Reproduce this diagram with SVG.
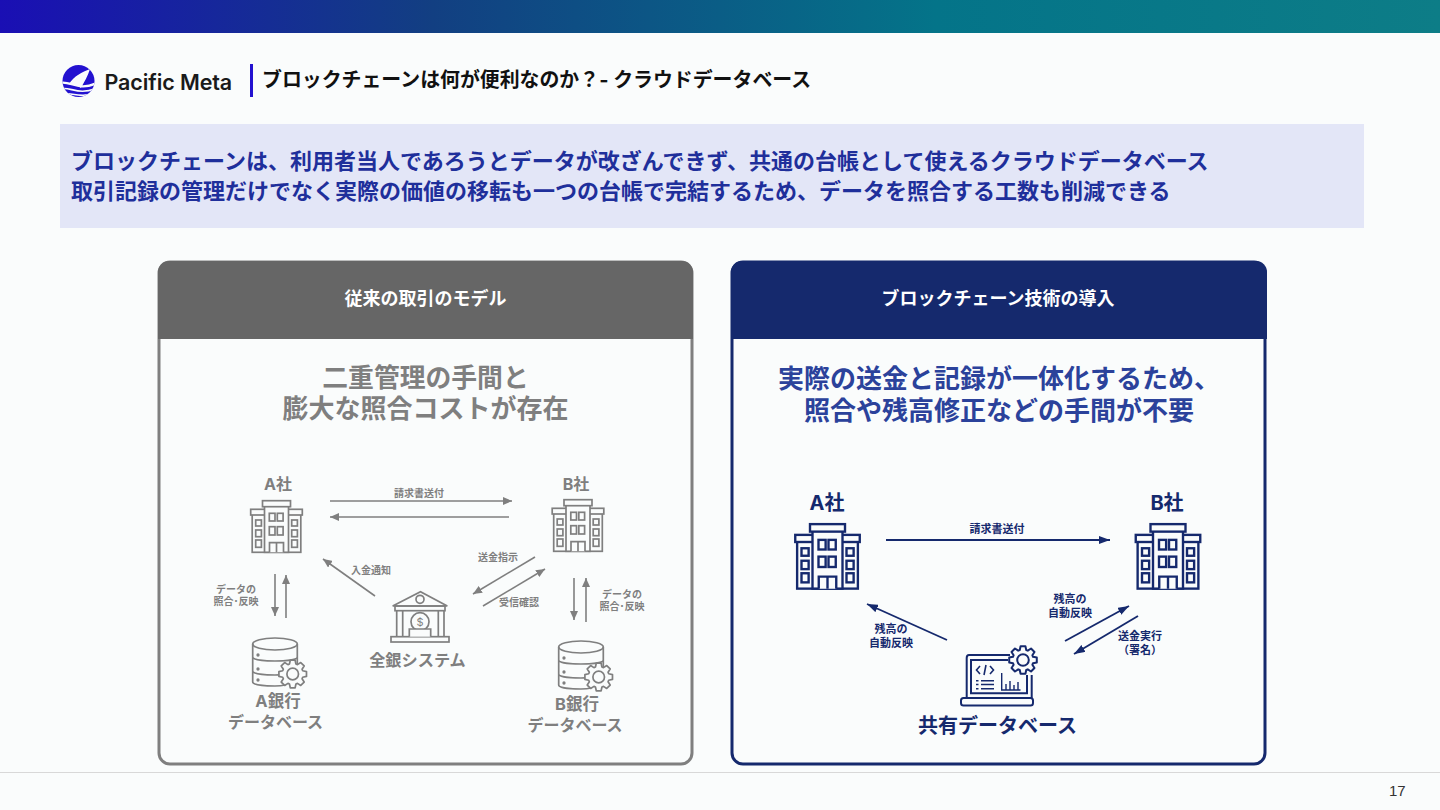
<svg xmlns="http://www.w3.org/2000/svg" width="1440" height="810" viewBox="0 0 1440 810">
<defs>
<linearGradient id="bar" x1="0" x2="1" y1="0" y2="0"><stop offset="0" stop-color="#1a0fb4"/><stop offset="0.3" stop-color="#123f82"/><stop offset="0.65" stop-color="#047489"/><stop offset="1" stop-color="#0d7d87"/></linearGradient>
<clipPath id="logoclip"><circle cx="78.500" cy="81" r="16"/></clipPath>
<marker id="ag" markerWidth="10" markerHeight="8" refX="9" refY="4" orient="auto" markerUnits="userSpaceOnUse"><path d="M0 0L9 4L0 8Z" fill="#7f7f7f"/></marker>
<marker id="an" markerWidth="12" markerHeight="8" refX="11" refY="4" orient="auto" markerUnits="userSpaceOnUse"><path d="M0 0L11 4L0 8Z" fill="#15296d"/></marker>
<g id="bld">
<rect x="-24.300" y="-14" width="48.600" height="39.300"/>
<rect x="-25.800" y="-17.700" width="51.600" height="5.700"/>
<rect x="-12" y="-21" width="24" height="46.300"/>
<rect x="-14" y="-26.300" width="28" height="6"/>
<rect x="-7.200" y="-13.700" width="5.700" height="7.700"/><rect x="0.800" y="-13.700" width="5.800" height="7.700"/>
<rect x="-7.200" y="-0.300" width="5.700" height="8.300"/><rect x="0.800" y="-0.300" width="5.800" height="8.300"/>
<path d="M-7 25.300V15.700H7V25.300M0 15.700V25.300"/>
<rect x="-20.800" y="-7" width="5.700" height="6"/><rect x="-20.800" y="3" width="5.700" height="6.700"/><rect x="-20.800" y="13" width="5.700" height="7.300"/>
<rect x="15.200" y="-7" width="5.700" height="6"/><rect x="15.200" y="3" width="5.700" height="6.700"/><rect x="15.200" y="13" width="5.700" height="7.300"/>
</g>
<g id="gear" stroke-linejoin="round">
<path d="M9.990 -3.240L13.790 -2.430L13.790 2.430L9.990 3.240L9.360 4.770L11.470 8.030L8.030 11.470L4.770 9.360L3.240 9.990L2.430 13.790L-2.430 13.790L-3.240 9.990L-4.770 9.360L-8.030 11.470L-11.470 8.030L-9.360 4.770L-9.990 3.240L-13.790 2.430L-13.790 -2.430L-9.990 -3.240L-9.360 -4.770L-11.470 -8.030L-8.030 -11.470L-4.770 -9.360L-3.240 -9.990L-2.430 -13.790L2.430 -13.790L3.240 -9.990L4.770 -9.360L8.030 -11.470L11.470 -8.030L9.360 -4.770Z"/>
<circle r="5.800"/>
</g>
<g id="db">
<ellipse cx="0" cy="-16" rx="22.300" ry="6"/>
<path d="M-22.300 -16V22C-22.300 25 -10 26 0 26Q6 26 10 25M22.300 -16V4M-22.300 -3C-22.300 0 -10 1 0 1S22.300 0 22.300 -3M-22.300 11C-22.300 14 -10 15 0 15Q4 15 8 14.500"/>
<circle cx="-17" cy="-5" r="0.800"/><circle cx="-17" cy="9" r="0.800"/><circle cx="-17" cy="20" r="0.800"/>
</g>
</defs>
<style>
text{font-family:"Inter","Noto Sans CJK JP","Noto Sans",sans-serif;font-weight:700}
.g{fill:#7f7f7f}.n{fill:#15296d}.m{text-anchor:middle}
.s10{font-size:10px}
.gl{stroke:#7f7f7f;stroke-width:1.6;fill:none}
.nl{stroke:#15296d;stroke-width:1.9;fill:none}
</style>
<rect width="1440" height="810" fill="#fafcfc"/>
<rect id="topbar" width="1440" height="33" fill="url(#bar)"/>

<g id="logo">
<circle cx="78.500" cy="81" r="16" fill="#2312d0"/>
<g clip-path="url(#logoclip)">
<path d="M90 69C82 72 74 76 69 84C73 84 78 86 81 88C84 82 88 76 90 69Z" fill="#fafcfc"/>
<path d="M60 83C70 80 78 92 97 83" stroke="#fafcfc" stroke-width="2.400" fill="none"/>
<path d="M60 89C70 86 78 96 97 88M60 94C70 91 80 100 97 92" stroke="#fafcfc" stroke-width="1.600" fill="none"/>
</g>
<text x="104.500" y="89.500" font-size="21.500" fill="#1a1a1a" style="font-weight:600" letter-spacing="-0.100">Pacific Meta</text>
</g>
<rect x="250" y="64" width="3" height="33" fill="#2312d0"/>
<text id="title" x="262" y="86.500" font-size="19.900" fill="#111">ブロックチェーンは何が便利なのか？- クラウドデータベース</text>

<g id="banner">
<rect x="60" y="124" width="1304" height="104" fill="#e3e6f7"/>
<text x="71" y="169" font-size="22" fill="#1f2f9b">ブロックチェーンは、利用者当人であろうとデータが改ざんできず、共通の台帳として使えるクラウドデータベース</text>
<text x="71" y="199" font-size="22" fill="#1f2f9b">取引記録の管理だけでなく実際の価値の移転も一つの台帳で完結するため、データを照合する工数も削減できる</text>
</g>

<g id="panel-left">
<rect x="159" y="262" width="533" height="502" rx="11" fill="none" stroke="#7f7f7f" stroke-width="3"/>
<path d="M158 339V272A11 11 0 0 1 169 261H682A11 11 0 0 1 693 272V339Z" fill="#666"/>
<text x="425.500" y="304.500" class="m" font-size="18" fill="#fff">従来の取引のモデル</text>
<text x="425.500" y="387" class="m g" font-size="25.800">二重管理の手間と</text>
<text x="425.500" y="418" class="m g" font-size="26">膨大な照合コストが存在</text>
</g>
<g id="panel-right">
<rect x="732" y="262" width="533" height="502" rx="11" fill="none" stroke="#15296d" stroke-width="3"/>
<path d="M731 339V272A11 11 0 0 1 742 261H1256A11 11 0 0 1 1267 272V339Z" fill="#15296d"/>
<text x="998" y="304.500" class="m" font-size="18" fill="#fff">ブロックチェーン技術の導入</text>
<text x="999" y="388" class="m" font-size="26" fill="#2b429b">実際の送金と記録が一体化するため、</text>
<text x="999" y="420" class="m" font-size="26" fill="#2b429b">照合や残高修正などの手間が不要</text>
</g>

<g id="connectors">
<path class="gl" d="M330 501H512" marker-end="url(#ag)"/>
<path class="gl" d="M509 517H330" marker-end="url(#ag)"/>
<path class="gl" d="M375 596L323 559" marker-end="url(#ag)"/>
<path class="gl" d="M535 557L473 594" marker-end="url(#ag)"/>
<path class="gl" d="M483 606L545 569" marker-end="url(#ag)"/>
<path class="gl" d="M275 574V616" marker-end="url(#ag)"/>
<path class="gl" d="M286 618V575" marker-end="url(#ag)"/>
<path class="gl" d="M574 578V620" marker-end="url(#ag)"/>
<path class="gl" d="M586 622V578" marker-end="url(#ag)"/>
<path class="nl" d="M886 540H1110" marker-end="url(#an)"/>
<path class="nl" d="M947 640L867 604" marker-end="url(#an)"/>
<path class="nl" d="M1065 641L1129 606" marker-end="url(#an)"/>
<path class="nl" d="M1138 616L1074 654" marker-end="url(#an)"/>
</g>

<g id="edge-labels">
<text x="419" y="497" class="m g s10">請求書送付</text>
<text x="371" y="574" class="m g s10">入金通知</text>
<text x="498" y="561" class="m g s10">送金指示</text>
<text x="519" y="606" class="m g s10">受信確認</text>
<text x="236" y="593" class="m g s10">データの</text>
<text x="236" y="605" class="m g s10">照合･反映</text>
<text x="622" y="598" class="m g s10">データの</text>
<text x="622" y="610" class="m g s10">照合･反映</text>
<text x="997" y="533" class="m n" font-size="11">請求書送付</text>
<text x="891" y="633" class="m n" font-size="11">残高の</text>
<text x="891" y="647" class="m n" font-size="11">自動反映</text>
<text x="1070" y="603" class="m n" font-size="11">残高の</text>
<text x="1070" y="617" class="m n" font-size="11">自動反映</text>
<text x="1140" y="640" class="m n" font-size="11">送金実行</text>
<text x="1140" y="654" class="m n" font-size="11">（署名）</text>
</g>

<g id="node-a-old">
<text x="278" y="490" class="m g" font-size="16">A社</text>
<use href="#bld" x="276.500" y="527" stroke="#7f7f7f" stroke-width="1.700" fill="#fafcfc"/>
</g>
<g id="node-b-old">
<text x="576" y="490" class="m g" font-size="16">B社</text>
<use href="#bld" x="578" y="526" stroke="#7f7f7f" stroke-width="1.700" fill="#fafcfc"/>
</g>
<g id="node-bank">
<g stroke="#7f7f7f" stroke-width="1.700" fill="none">
<path d="M392.700 606L420.500 591.700L447.300 606Z"/><circle cx="420" cy="599.300" r="4"/>
<rect x="395" y="606" width="50" height="4.700"/>
<path d="M396.700 610.700V636.700M402.700 610.700V636.700M438.300 610.700V636.700M444 610.700V636.700"/>
<rect x="391" y="636.700" width="58" height="5.300"/>
<circle cx="420" cy="621.700" r="9"/>
<path d="M409.300 636.700V629H430.700V636.700" fill="#fafcfc"/>
</g>
<text x="420" y="626" class="m g" font-size="11" style="font-weight:400">$</text>
<text x="417.500" y="666" class="m g" font-size="16.200">全銀システム</text>
</g>
<g id="node-a-db">
<use href="#db" x="275" y="660" stroke="#7f7f7f" stroke-width="1.700" fill="none"/>
<use href="#gear" x="292.700" y="674" stroke="#7f7f7f" stroke-width="1.700" fill="#fafcfc"/>
<text x="278" y="707" class="m g" font-size="16.500">A銀行</text>
<text x="275.500" y="728" class="m g" font-size="16">データベース</text>
</g>
<g id="node-b-db">
<use href="#db" x="581" y="663" stroke="#7f7f7f" stroke-width="1.700" fill="none"/>
<use href="#gear" x="598.700" y="677" stroke="#7f7f7f" stroke-width="1.700" fill="#fafcfc"/>
<text x="577" y="710" class="m g" font-size="16.500">B銀行</text>
<text x="575" y="731" class="m g" font-size="16">データベース</text>
</g>

<g id="node-a-new">
<text x="827" y="510" class="m n" font-size="20">A社</text>
<use href="#bld" transform="translate(827.500 557) scale(1.250)" stroke="#15296d" stroke-width="1.900" fill="#fafcfc"/>
</g>
<g id="node-b-new">
<text x="1167" y="510" class="m n" font-size="20">B社</text>
<use href="#bld" transform="translate(1168 557) scale(1.250)" stroke="#15296d" stroke-width="1.900" fill="#fafcfc"/>
</g>
<g id="node-shared">
<g stroke="#15296d" stroke-width="2" fill="none">
<path d="M1010 655H969Q966.700 655 966.700 658V698M1031.700 675V698"/>
<path d="M1008 660H971V693.300H1027V675"/>
<rect x="961" y="698" width="72" height="7.500" rx="2.500"/>
<path d="M980 666L976.500 670L980 674M984 675L986 665M990 666L993.500 670L990 674" stroke-width="1.600"/>
<path d="M981 680.700H994M981 684.500H994M981 688.700H994M976 680.700H978.500M976 684.500H978.500M976 688.700H978.500" stroke-width="1.500"/>
<path d="M1001.700 673V690H1020.500M1006 690V684M1010 690V681M1014 690V685M1018 690V682" stroke-width="1.400"/>
</g>
<use href="#gear" x="1023" y="660" stroke="#15296d" stroke-width="2" fill="#fafcfc"/>
<text x="997.500" y="733" class="m n" font-size="20">共有データベース</text>
</g>

<rect id="footer-line" x="0" y="772" width="1440" height="1" fill="#d8d8d8"/>
<text id="page" x="1389" y="796" font-size="15" fill="#333" style="font-family:'Liberation Sans',sans-serif;font-weight:400">17</text>
</svg>
